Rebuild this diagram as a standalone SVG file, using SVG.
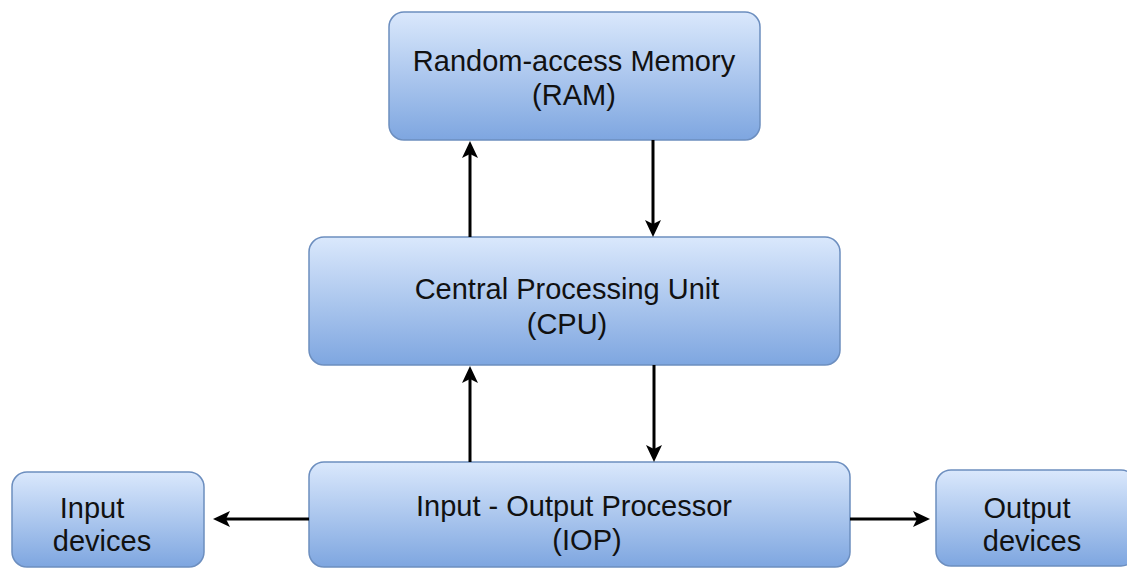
<svg xmlns="http://www.w3.org/2000/svg" width="1127" height="569" viewBox="0 0 1127 569">
<style>
.box{fill:url(#g);stroke:#6c8ebf;stroke-width:1.5}
.t{font-family:"Liberation Sans",Arial,sans-serif;font-size:29px;fill:#111;text-anchor:middle}
.c{stroke:#000;stroke-width:3;fill:none}
</style>
<defs>
<linearGradient id="g" x1="0" y1="0" x2="0" y2="1">
<stop offset="0" stop-color="#dae8fc"/>
<stop offset="1" stop-color="#7ea6e0"/>
</linearGradient>
<marker id="a" markerUnits="userSpaceOnUse" markerWidth="20" markerHeight="18" refX="8" refY="8" orient="auto">
<path d="M0,0 L17,8 L0,16 L4,8 z" fill="#000"/>
</marker>
</defs>
<rect width="1127" height="569" fill="#fff"/>
<g id="ram">
<rect class="box" x="389" y="12" width="371" height="128" rx="15"/>
<text class="t" x="574" y="71">Random-access Memory</text>
<text class="t" x="574" y="105">(RAM)</text>
</g>
<g id="cpu">
<rect class="box" x="309" y="237" width="531" height="128" rx="15"/>
<text class="t" x="567" y="299">Central Processing Unit</text>
<text class="t" x="567" y="334">(CPU)</text>
</g>
<g id="iop">
<rect class="box" x="309" y="462" width="541" height="105" rx="15"/>
<text class="t" x="574" y="516">Input - Output Processor</text>
<text class="t" x="587" y="550">(IOP)</text>
</g>
<g id="input">
<rect class="box" x="12" y="472" width="192" height="95" rx="15"/>
<text class="t" x="92" y="518">Input</text>
<text class="t" x="102" y="551">devices</text>
</g>
<g id="output">
<rect class="box" x="936" y="470" width="200" height="96" rx="15"/>
<text class="t" x="1027" y="518">Output</text>
<text class="t" x="1032" y="551">devices</text>
</g>
<g id="connectors">
<line class="c" x1="470" y1="237" x2="470" y2="150" marker-end="url(#a)"/>
<line class="c" x1="653" y1="140" x2="653" y2="228" marker-end="url(#a)"/>
<line class="c" x1="470" y1="462" x2="470" y2="375" marker-end="url(#a)"/>
<line class="c" x1="654" y1="365" x2="654" y2="453" marker-end="url(#a)"/>
<line class="c" x1="309" y1="519" x2="222" y2="519" marker-end="url(#a)"/>
<line class="c" x1="850" y1="519" x2="921" y2="519" marker-end="url(#a)"/>
</g>
</svg>
